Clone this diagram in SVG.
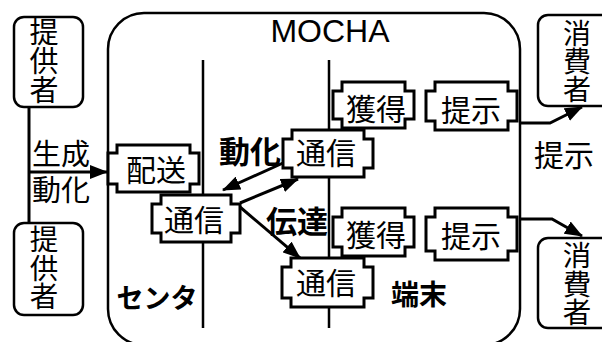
<svg xmlns="http://www.w3.org/2000/svg" width="602" height="342" viewBox="0 0 602 342">
<defs>
<style>
.frame{fill:#fff;stroke:#000;stroke-width:2.5}
.box{fill:#fff;stroke:#000;stroke-width:2.5}
.node{fill:#fff;stroke:#000;stroke-width:3}
.line{fill:none;stroke:#000;stroke-width:3}
.vline{fill:none;stroke:#000;stroke-width:2.5}
.t{font-family:"Noto Sans CJK JP","Noto Sans CJK SC",sans-serif;font-size:30px;fill:#000;text-anchor:middle}
.v{font-family:"Noto Sans CJK JP","Noto Sans CJK SC",sans-serif;font-size:29px;fill:#000;writing-mode:vertical-rl;text-anchor:start}
.b{font-weight:bold}
.m{font-family:"Liberation Sans",Arial,sans-serif;font-size:32px;fill:#000;text-anchor:middle}
</style>
<marker id="ah" markerUnits="userSpaceOnUse" markerWidth="18" markerHeight="14" refX="17" refY="7" orient="auto">
<path d="M0,0 L18,7 L0,14 Z" fill="#000"/>
</marker>
</defs>
<rect width="602" height="342" fill="#fff"/>

<g id="mocha">
<rect class="frame" x="108" y="13" width="412" height="332" rx="36"/>
<text class="m" x="330" y="42">MOCHA</text>
</g>

<g id="lanes">
<line class="vline" x1="203" y1="60" x2="203" y2="328"/>
<line class="vline" x1="329" y1="60" x2="329" y2="328"/>
</g>

<g id="provider1">
<rect class="box" x="14" y="17" width="69" height="90" rx="10"/>
<text class="v" x="44" y="17">提供者</text>
</g>
<g id="provider2">
<rect class="box" x="14" y="223" width="69" height="92" rx="10"/>
<text class="v" x="44" y="225" style="font-size:28.5px">提供者</text>
</g>
<g id="consumer1">
<rect class="box" x="538" y="15" width="80" height="91" rx="10"/>
<text class="v" x="577" y="19" style="font-size:28px">消費者</text>
</g>
<g id="consumer2">
<rect class="box" x="538" y="238" width="80" height="90" rx="10"/>
<text class="v" x="577" y="241" style="font-size:28.5px">消費者</text>
</g>

<g id="connectors">
<line class="line" x1="29" y1="107" x2="29" y2="223"/>
<line class="line" x1="29" y1="172" x2="107" y2="172" marker-end="url(#ah)"/>
<polyline class="line" points="520,123 550,123 582,107" marker-end="url(#ah)"/>
<polyline class="line" points="520,219 552,219 582,236" marker-end="url(#ah)"/>
<line class="line" x1="283" y1="163" x2="223" y2="190" marker-end="url(#ah)"/>
<line class="line" x1="240" y1="203" x2="298" y2="179" marker-end="url(#ah)"/>
<line class="line" x1="240" y1="207" x2="300" y2="258" marker-end="url(#ah)"/>
</g>

<g id="haisou">
<path class="node" d="M117,145 H190 V153 H199 V184 H190 V192 H117 V184 H108 V153 H117 Z"/>
<text class="t" x="156" y="181">配送</text>
</g>
<g id="tsushin-center">
<path class="node" d="M161,195 H231 V204 H240 V233 H231 V242 H161 V233 H152 V204 H161 Z"/>
<text class="t" x="194" y="231">通信</text>
</g>
<g id="tsushin-top">
<path class="node" d="M292,130 H364 V139 H373 V168 H364 V177 H292 V168 H283 V139 H292 Z"/>
<text class="t" x="326" y="164">通信</text>
</g>
<g id="tsushin-bottom">
<path class="node" d="M291,258 H364 V267 H373 V298 H364 V307 H291 V298 H282 V267 H291 Z"/>
<text class="t" x="326" y="294">通信</text>
</g>
<g id="kakutoku-top">
<path class="node" d="M342,82 H405 V91 H414 V119 H405 V128 H342 V119 H333 V91 H342 Z"/>
<text class="t" x="376" y="120">獲得</text>
</g>
<g id="teiji-top">
<path class="node" d="M435,82 H508 V91 H517 V121 H508 V130 H435 V121 H426 V91 H435 Z"/>
<text class="t" x="471" y="121">提示</text>
</g>
<g id="kakutoku-bottom">
<path class="node" d="M342,208 H405 V217 H414 V247 H405 V256 H342 V247 H333 V217 H342 Z"/>
<text class="t" x="376" y="246">獲得</text>
</g>
<g id="teiji-bottom">
<path class="node" d="M435,208 H508 V217 H517 V251 H508 V260 H435 V251 H426 V217 H435 Z"/>
<text class="t" x="471" y="247">提示</text>
</g>

<g id="labels">
<text class="t" x="61" y="165" style="font-size:29px">生成</text>
<text class="t" x="61" y="201" style="font-size:29px">動化</text>
<text class="t b" x="250" y="163" style="font-size:31px">動化</text>
<text class="t b" x="297" y="233" style="font-size:31px">伝達</text>
<text class="t b" x="157" y="308" style="font-size:27px">センタ</text>
<text class="t b" x="419" y="305" style="font-size:28px">端末</text>
<text class="t" x="564" y="166">提示</text>
</g>
</svg>
